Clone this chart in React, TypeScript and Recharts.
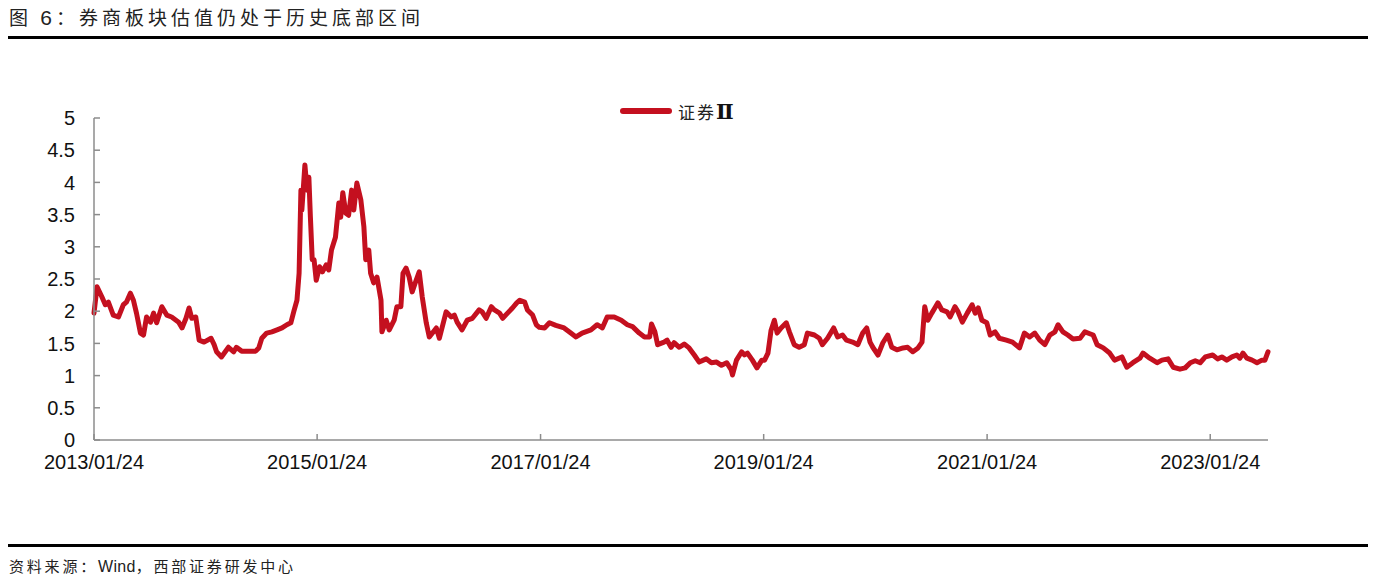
import { LineChart, Line, XAxis, YAxis } from "recharts";

type Pt = [string, number];

// 证券Ⅱ 估值（PB），按年份分组读取
const Y2013: Pt[] = [
  ["2013-01-24", 1.97], ["2013-02-03", 2.38], ["2013-02-19", 2.22], ["2013-03-02", 2.1],
  ["2013-03-12", 2.14], ["2013-03-28", 1.94], ["2013-04-14", 1.91], ["2013-04-30", 2.1],
  ["2013-05-10", 2.14], ["2013-05-23", 2.28], ["2013-06-02", 2.17], ["2013-06-12", 1.97],
  ["2013-06-25", 1.66], ["2013-07-05", 1.63], ["2013-07-15", 1.91], ["2013-07-28", 1.83],
  ["2013-08-07", 1.97], ["2013-08-17", 1.82], ["2013-09-03", 2.07], ["2013-09-19", 1.94],
  ["2013-10-05", 1.91], ["2013-10-28", 1.83], ["2013-11-08", 1.74], ["2013-11-21", 1.89],
  ["2013-12-01", 2.05], ["2013-12-10", 1.89], ["2013-12-23", 1.91],
];
const Y2014: Pt[] = [
  ["2014-01-03", 1.55], ["2014-01-19", 1.52], ["2014-02-11", 1.58], ["2014-02-21", 1.48],
  ["2014-03-01", 1.37], ["2014-03-17", 1.29], ["2014-04-09", 1.44], ["2014-04-26", 1.37],
  ["2014-05-05", 1.44], ["2014-05-22", 1.38], ["2014-06-14", 1.38], ["2014-07-07", 1.38],
  ["2014-07-17", 1.43], ["2014-07-27", 1.58], ["2014-08-12", 1.66], ["2014-08-29", 1.68],
  ["2014-09-15", 1.71], ["2014-10-01", 1.74], ["2014-10-17", 1.79], ["2014-10-30", 1.82],
  ["2014-11-09", 2.0], ["2014-11-19", 2.17], ["2014-11-26", 2.59], ["2014-12-02", 3.88],
  ["2014-12-05", 3.57], ["2014-12-15", 4.27], ["2014-12-22", 3.88], ["2014-12-28", 4.08],
];
const Y2015: Pt[] = [
  ["2015-01-02", 3.46], ["2015-01-08", 2.8], ["2015-01-14", 2.8], ["2015-01-21", 2.48],
  ["2015-02-01", 2.69], ["2015-02-10", 2.61], ["2015-02-23", 2.72], ["2015-03-03", 2.64],
  ["2015-03-12", 2.95], ["2015-03-25", 3.15], ["2015-04-05", 3.68], ["2015-04-11", 3.46],
  ["2015-04-18", 3.84], ["2015-04-28", 3.52], ["2015-05-07", 3.49], ["2015-05-17", 3.88],
  ["2015-05-24", 3.57], ["2015-06-03", 3.99], ["2015-06-16", 3.73], ["2015-06-26", 3.31],
  ["2015-07-02", 2.8], ["2015-07-12", 2.95], ["2015-07-18", 2.59], ["2015-07-28", 2.44],
  ["2015-08-08", 2.53], ["2015-08-21", 2.17], ["2015-08-24", 1.68], ["2015-09-07", 1.86],
  ["2015-09-17", 1.71], ["2015-10-03", 1.86], ["2015-10-12", 2.07], ["2015-10-25", 2.07],
  ["2015-11-01", 2.59], ["2015-11-11", 2.67], ["2015-11-21", 2.53], ["2015-12-01", 2.3],
  ["2015-12-14", 2.48], ["2015-12-24", 2.61],
];
const Y2016: Pt[] = [
  ["2016-01-03", 2.22], ["2016-01-16", 1.82], ["2016-01-26", 1.6], ["2016-02-18", 1.74],
  ["2016-02-28", 1.58], ["2016-03-21", 1.99], ["2016-04-07", 1.91], ["2016-04-17", 1.94],
  ["2016-04-26", 1.83], ["2016-05-12", 1.71], ["2016-05-29", 1.86], ["2016-06-15", 1.89],
  ["2016-07-07", 2.02], ["2016-07-17", 1.99], ["2016-07-30", 1.89], ["2016-08-16", 2.07],
  ["2016-08-26", 2.02], ["2016-09-12", 1.97], ["2016-09-22", 1.89], ["2016-10-08", 1.97],
  ["2016-10-24", 2.05], ["2016-11-07", 2.13], ["2016-11-17", 2.17], ["2016-12-03", 2.14],
  ["2016-12-12", 2.02], ["2016-12-29", 1.94],
];
const Y2017: Pt[] = [
  ["2017-01-10", 1.79], ["2017-01-20", 1.75], ["2017-02-06", 1.74], ["2017-02-22", 1.82],
  ["2017-03-15", 1.78], ["2017-04-11", 1.74], ["2017-05-03", 1.66], ["2017-05-20", 1.6],
  ["2017-06-09", 1.66], ["2017-07-08", 1.71], ["2017-07-28", 1.79], ["2017-08-14", 1.74],
  ["2017-08-30", 1.91], ["2017-09-22", 1.91], ["2017-10-15", 1.86], ["2017-11-04", 1.79],
  ["2017-11-21", 1.76], ["2017-12-13", 1.66], ["2017-12-30", 1.6],
];
const Y2018: Pt[] = [
  ["2018-01-16", 1.6], ["2018-01-22", 1.8], ["2018-02-02", 1.68], ["2018-02-11", 1.48],
  ["2018-03-04", 1.52], ["2018-03-14", 1.55], ["2018-03-27", 1.44], ["2018-04-06", 1.51],
  ["2018-04-23", 1.44], ["2018-05-09", 1.49], ["2018-05-25", 1.43], ["2018-06-11", 1.32],
  ["2018-06-27", 1.21], ["2018-07-20", 1.26], ["2018-08-06", 1.2], ["2018-08-23", 1.21],
  ["2018-09-08", 1.16], ["2018-09-25", 1.2], ["2018-10-10", 1.09], ["2018-10-14", 1.01],
  ["2018-10-27", 1.24], ["2018-11-13", 1.37], ["2018-11-22", 1.32], ["2018-12-02", 1.35],
  ["2018-12-18", 1.24],
];
const Y2019: Pt[] = [
  ["2019-01-02", 1.12], ["2019-01-18", 1.24], ["2019-01-27", 1.24], ["2019-02-07", 1.35],
  ["2019-02-17", 1.7], ["2019-02-28", 1.86], ["2019-03-09", 1.66], ["2019-03-22", 1.74],
  ["2019-04-08", 1.82], ["2019-04-18", 1.68], ["2019-05-04", 1.48], ["2019-05-20", 1.44],
  ["2019-06-06", 1.48], ["2019-06-16", 1.66], ["2019-07-09", 1.63], ["2019-07-25", 1.58],
  ["2019-08-04", 1.48], ["2019-08-21", 1.58], ["2019-09-10", 1.74], ["2019-09-23", 1.6],
  ["2019-10-09", 1.63], ["2019-10-22", 1.55], ["2019-11-11", 1.52], ["2019-11-28", 1.48],
  ["2019-12-14", 1.66], ["2019-12-27", 1.74],
];
const Y2020: Pt[] = [
  ["2020-01-07", 1.52], ["2020-01-16", 1.44], ["2020-02-02", 1.32], ["2020-02-18", 1.51],
  ["2020-03-05", 1.63], ["2020-03-18", 1.44], ["2020-04-04", 1.4], ["2020-04-24", 1.43],
  ["2020-05-09", 1.44], ["2020-05-26", 1.37], ["2020-06-12", 1.43], ["2020-06-25", 1.52],
  ["2020-07-04", 2.07], ["2020-07-14", 1.86], ["2020-07-27", 1.97], ["2020-08-06", 2.05],
  ["2020-08-16", 2.13], ["2020-08-29", 2.02], ["2020-09-15", 1.99], ["2020-09-25", 1.91],
  ["2020-10-11", 2.07], ["2020-10-21", 1.99], ["2020-11-04", 1.83], ["2020-11-20", 1.97],
  ["2020-12-06", 2.1], ["2020-12-16", 1.97], ["2020-12-26", 2.05],
];
const Y2021: Pt[] = [
  ["2021-01-07", 1.86], ["2021-01-23", 1.82], ["2021-02-03", 1.63], ["2021-02-19", 1.68],
  ["2021-03-05", 1.58], ["2021-03-28", 1.55], ["2021-04-17", 1.52], ["2021-05-10", 1.43],
  ["2021-05-26", 1.66], ["2021-06-12", 1.6], ["2021-06-29", 1.66], ["2021-07-15", 1.55],
  ["2021-08-01", 1.48], ["2021-08-17", 1.63], ["2021-09-03", 1.68], ["2021-09-13", 1.79],
  ["2021-09-29", 1.68], ["2021-10-15", 1.63], ["2021-11-01", 1.57], ["2021-11-24", 1.58],
  ["2021-12-10", 1.68], ["2021-12-26", 1.65],
];
const Y2022: Pt[] = [
  ["2022-01-06", 1.63], ["2022-01-19", 1.48], ["2022-02-08", 1.43], ["2022-03-01", 1.35],
  ["2022-03-17", 1.24], ["2022-04-10", 1.29], ["2022-04-26", 1.13], ["2022-05-16", 1.2],
  ["2022-06-08", 1.27], ["2022-06-18", 1.35], ["2022-07-10", 1.27], ["2022-08-03", 1.2],
  ["2022-08-19", 1.24], ["2022-09-08", 1.26], ["2022-09-25", 1.13], ["2022-10-17", 1.1],
  ["2022-11-03", 1.12], ["2022-11-20", 1.2], ["2022-12-06", 1.23], ["2022-12-22", 1.2],
];
const Y2023: Pt[] = [
  ["2023-01-08", 1.29], ["2023-02-01", 1.32], ["2023-02-17", 1.26], ["2023-03-03", 1.29],
  ["2023-03-19", 1.24], ["2023-04-05", 1.29], ["2023-04-21", 1.32], ["2023-05-01", 1.27],
  ["2023-05-11", 1.35], ["2023-05-24", 1.27], ["2023-06-10", 1.24], ["2023-06-26", 1.2],
  ["2023-07-12", 1.24], ["2023-07-22", 1.24], ["2023-08-01", 1.37],
];

const X_TICK_DATES = ["2013-01-24", "2015-01-24", "2017-01-24", "2019-01-24", "2021-01-24", "2023-01-24"];
const Y_TICKS = [0, 0.5, 1, 1.5, 2, 2.5, 3, 3.5, 4, 4.5, 5];

const SERIES_LABEL = "证券";
const SERIES_NUM = "Ⅱ";
const RED = "#C4101F";
const AXIS = "#8c8c8c";
const NUM_FONT = "'Liberation Sans', Arial, sans-serif";
const CJK_FONT = "'Noto Sans CJK SC', 'Noto Sans', sans-serif";

const ts = (d: string) => new Date(d + "T00:00:00Z").getTime();
const fmtDate = (t: number) => {
  const d = new Date(t);
  const mm = String(d.getUTCMonth() + 1).padStart(2, "0");
  const dd = String(d.getUTCDate()).padStart(2, "0");
  return `${d.getUTCFullYear()}/${mm}/${dd}`;
};

const data = [...Y2013, ...Y2014, ...Y2015, ...Y2016, ...Y2017, ...Y2018, ...Y2019, ...Y2020, ...Y2021, ...Y2022, ...Y2023]
  .map(([d, v]) => ({ t: ts(d), v }));

const YTick = (props: any) => {
  const { x, y, payload } = props;
  return (
    <g>
      <line x1={x + 19} x2={x + 25} y1={y} y2={y} stroke={AXIS} strokeWidth={1.5} />
      <text x={x} y={y} dy="0.36em" textAnchor="end" fontSize={20} fontFamily={NUM_FONT} fill="#111">
        {payload.value}
      </text>
    </g>
  );
};

const XTick = (props: any) => {
  const { x, y, payload } = props;
  return (
    <g>
      <line x1={x} x2={x} y1={y - 15} y2={y - 21} stroke={AXIS} strokeWidth={1.5} />
      <text x={x} y={y} dy="0.71em" textAnchor="middle" fontSize={20} fontFamily={NUM_FONT} fill="#111">
        {fmtDate(payload.value)}
      </text>
    </g>
  );
};

export default function App() {
  return (
    <div style={{ position: "absolute", left: 0, top: 0, width: 1381, height: 583, background: "#fff", overflow: "hidden" }}>
      <div style={{
        position: "absolute", left: 9, top: 5, fontFamily: CJK_FONT, fontSize: 19,
        letterSpacing: 4, color: "#222", whiteSpace: "nowrap", lineHeight: "24px",
      }}>图 <span style={{ fontFamily: NUM_FONT, fontSize: 21 }}>6</span>：券商板块估值仍处于历史底部区间</div>
      <div style={{ position: "absolute", left: 8, top: 36, width: 1360, height: 2.5, background: "#000" }} />

      <div style={{ position: "absolute", left: 0, top: 0 }}>
        <LineChart width={1381} height={583} data={data} margin={{ top: 118, right: 113, bottom: 113, left: 0 }}>
          <XAxis
            dataKey="t" type="number" scale="time"
            domain={[ts("2013-01-24"), ts("2023-08-01")]}
            ticks={X_TICK_DATES.map(ts)}
            tickSize={0} tickMargin={15}
            tick={<XTick />}
            stroke={AXIS} strokeWidth={1.5} height={30}
          />
          <YAxis
            type="number" domain={[0, 5]} ticks={Y_TICKS}
            tickSize={0} tickMargin={19}
            tick={<YTick />}
            stroke={AXIS} strokeWidth={1.5} width={94}
          />
          <Line
            dataKey="v" type="linear" stroke={RED} strokeWidth={5} dot={false}
            strokeLinejoin="round" strokeLinecap="round" isAnimationActive={false}
          />
        </LineChart>
      </div>

      {/* legend */}
      <div style={{ position: "absolute", left: 620, top: 108, width: 52, height: 6, borderRadius: 3, background: RED }} />
      <div style={{
        position: "absolute", left: 678, top: 100, fontFamily: CJK_FONT, fontSize: 17,
        letterSpacing: 2, color: "#222", lineHeight: "24px", whiteSpace: "nowrap",
      }}>
        {SERIES_LABEL}
        <span style={{ fontFamily: "'DejaVu Serif', 'Liberation Serif', serif", fontWeight: 700, fontSize: 21, color: "#111" }}>{SERIES_NUM}</span>
      </div>

      <div style={{ position: "absolute", left: 8, top: 544, width: 1360, height: 2.5, background: "#000" }} />
      <div style={{
        position: "absolute", left: 9, top: 555, fontFamily: CJK_FONT, fontSize: 15,
        letterSpacing: 2.8, color: "#222", whiteSpace: "nowrap", lineHeight: "22px",
      }}>资料来源：<span style={{ fontFamily: NUM_FONT, fontSize: 16, letterSpacing: 0.3 }}>Wind</span>，西部证券研发中心</div>
    </div>
  );
}
